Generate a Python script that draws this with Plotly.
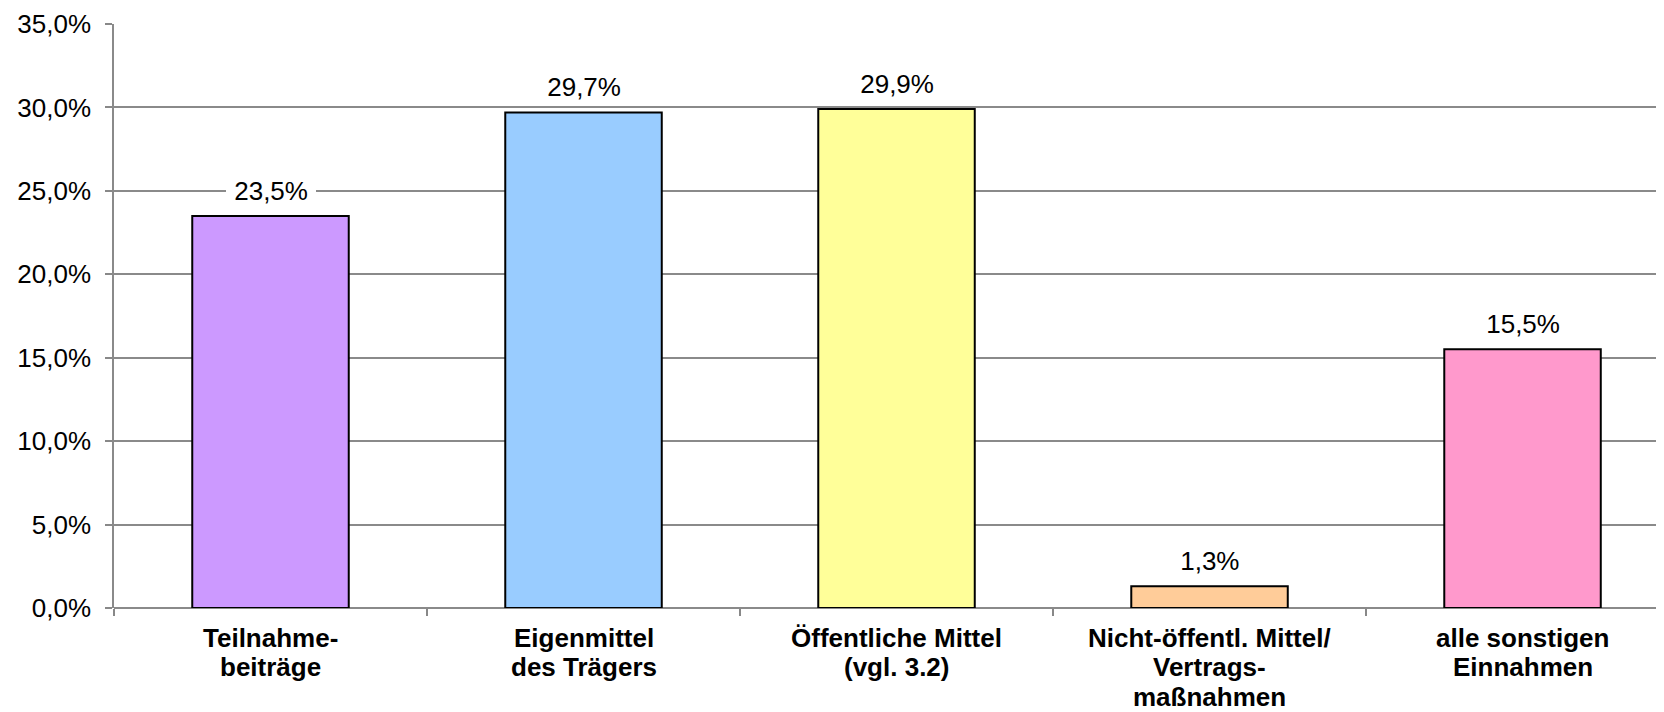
import plotly.graph_objects as go

categories = ["Teilnahmebeiträge", "Eigenmittel des Trägers", "Öffentliche Mittel (vgl. 3.2)",
              "Nicht-öffentl. Mittel/Vertragsmaßnahmen", "alle sonstigen Einnahmen"]
category_lines = [["Teilnahme-", "beiträge"],
                  ["Eigenmittel", "des Trägers"],
                  ["Öffentliche Mittel", "(vgl. 3.2)"],
                  ["Nicht-öffentl. Mittel/", "Vertrags-", "maßnahmen"],
                  ["alle sonstigen", "Einnahmen"]]
values = [23.5, 29.7, 29.9, 1.3, 15.5]
value_labels = ["23,5%", "29,7%", "29,9%", "1,3%", "15,5%"]
colors = ["#CC99FF", "#99CCFF", "#FFFF99", "#FFCC99", "#FF99CC"]
ytick_vals = [0, 5, 10, 15, 20, 25, 30, 35]
ytick_text = ["0,0%", "5,0%", "10,0%", "15,0%", "20,0%", "25,0%", "30,0%", "35,0%"]

FONT = "Liberation Sans, Arial, sans-serif"

fig = go.Figure()
fig.add_trace(go.Bar(
    x=categories, y=values, width=0.5,
    marker=dict(color=colors, line=dict(color="black", width=2)),
    hoverinfo="skip",
))

for c, v, t in zip(categories, values, value_labels):
    fig.add_annotation(x=c, y=v, text="&nbsp;" + t + "&nbsp;", showarrow=False,
                       yanchor="middle", yshift=25,
                       bgcolor="white", borderpad=1, borderwidth=0,
                       font=dict(family=FONT, size=26, color="black"))

for c, lines in zip(categories, category_lines):
    for i, line in enumerate(lines):
        fig.add_annotation(x=c, y=0, yref="paper", text="<b>" + line + "</b>", showarrow=False,
                           yanchor="middle", yshift=-(30 + i * 29.4),
                           font=dict(family=FONT, size=26, color="black"))

# page body has an 8px margin: size the figure so it ends exactly at the window edge
fig.update_layout(
    width=1656, height=704,
    margin=dict(l=106, r=0, t=16, b=104, autoexpand=False),
    paper_bgcolor="white", plot_bgcolor="white",
    showlegend=False,
)
fig.update_xaxes(
    type="category",
    range=[-0.5, 4.452],
    showticklabels=False,
    ticks="outside", ticklen=7, tickcolor="#888888", tickwidth=1.5,
    tickson="boundaries",
    showgrid=False, zeroline=False, showline=False,
    automargin=False,
)
fig.update_yaxes(
    range=[0, 35],
    tickmode="array", tickvals=ytick_vals, ticktext=ytick_text,
    tickfont=dict(family=FONT, size=26, color="black"),
    ticks="outside", ticklen=7, tickcolor="#888888", tickwidth=1.5,
    ticklabelstandoff=9,
    showgrid=True, gridcolor="#8a8a8a", gridwidth=1.5,
    zeroline=True, zerolinecolor="#8a8a8a", zerolinewidth=1.5,
    showline=True, linecolor="#8a8a8a", linewidth=1.5,
    automargin=False,
)

fig.write_html("out.html")
